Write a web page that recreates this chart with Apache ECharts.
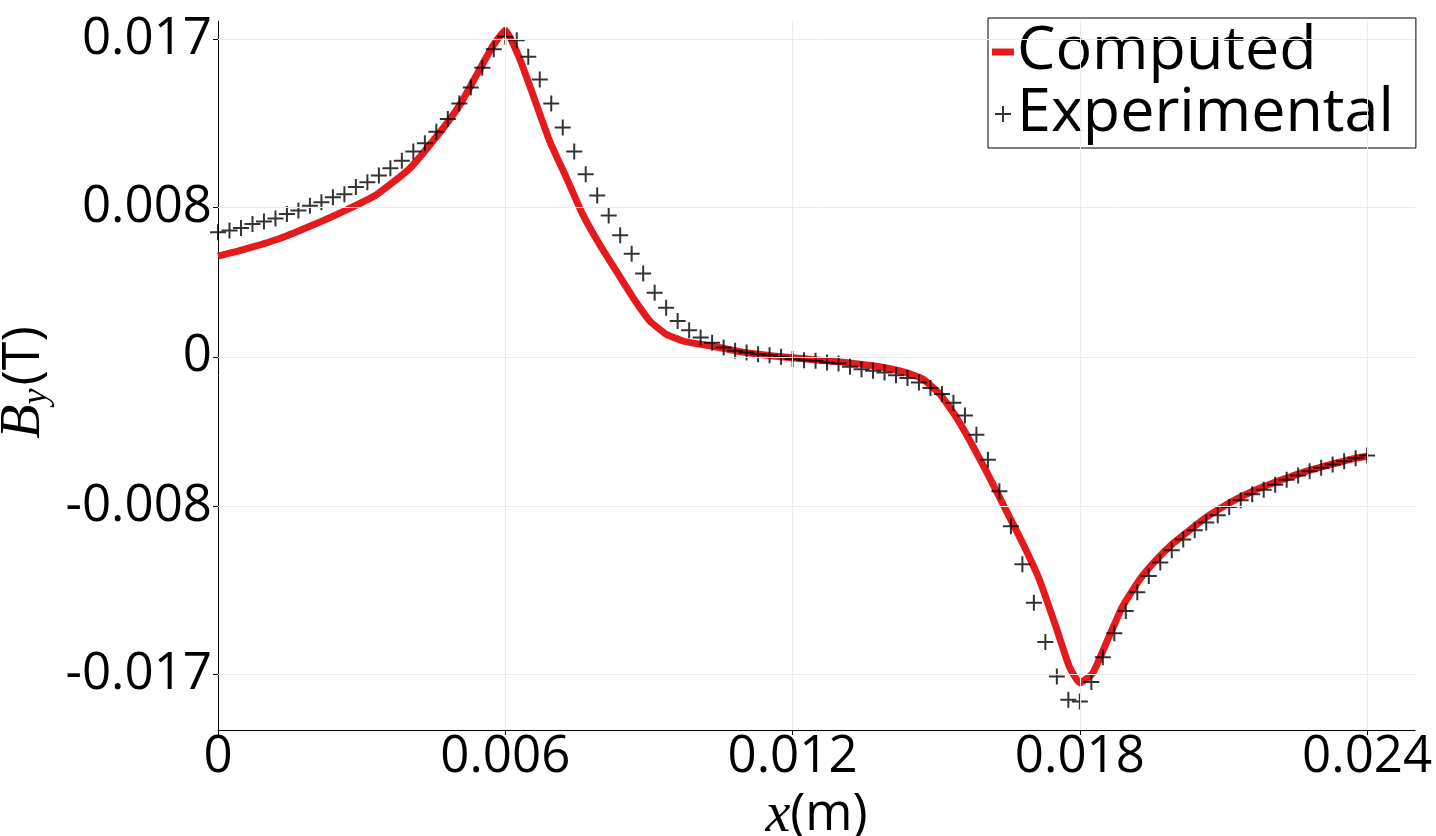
<!DOCTYPE html>
<html><head><meta charset="utf-8">
<script src="https://cdn.jsdelivr.net/npm/echarts@6/dist/echarts.min.js"></script>
<style>html,body{margin:0;padding:0;background:#fff}#c{width:1436px;height:836px}</style>
</head><body><div id="c"></div>
<script>
// Tick values
const xTicks = [0, 0.006, 0.012, 0.018, 0.024];
const yTicks = [-0.017, -0.008, 0, 0.008, 0.017];

// Computed curve (x in m, By in T)
const computedX = [0, 0.00053, 0.00123, 0.00192, 0.00262, 0.00331, 0.00401, 0.00470, 0.00505, 0.00540, 0.00575, 0.00600,
  0.00630, 0.00658, 0.00693, 0.00728, 0.00762, 0.00797, 0.00832, 0.00867, 0.00902, 0.00936, 0.00971, 0.01006, 0.01041,
  0.01089, 0.01159, 0.01229, 0.01298, 0.01368, 0.01437, 0.01472, 0.01507, 0.01542, 0.01576, 0.01611, 0.01646, 0.01681,
  0.01716, 0.01750, 0.01778, 0.01800, 0.01827, 0.01855, 0.01889, 0.01924, 0.01959, 0.01994, 0.02029, 0.02063, 0.02098,
  0.02133, 0.02168, 0.02202, 0.02237, 0.02272, 0.02307, 0.02342, 0.02376, 0.02400];
const computedY = [0.00540, 0.00575, 0.00629, 0.00700, 0.00780, 0.00869, 0.01011, 0.01225, 0.01350, 0.01510, 0.01670, 0.01751,
  0.01599, 0.01403, 0.01154, 0.00958, 0.00762, 0.00602, 0.00459, 0.00317, 0.00192, 0.00121, 0.00085, 0.00068, 0.00053,
  0.00028, 0.00005, -0.00012, -0.00027, -0.00048, -0.00084, -0.00119, -0.00198, -0.00324, -0.00475, -0.00645, -0.00823, -0.01001,
  -0.01197, -0.01446, -0.01660, -0.01748, -0.01695, -0.01535, -0.01339, -0.01197, -0.01090, -0.01001, -0.00929, -0.00862, -0.00805,
  -0.00755, -0.00712, -0.00677, -0.00645, -0.00614, -0.00588, -0.00565, -0.00543, -0.00533];

// Experimental measurements
const expX = [0, 0.00024, 0.00048, 0.00072, 0.00096, 0.0012, 0.00144, 0.00168, 0.00192, 0.00216, 0.0024, 0.00264, 0.00288,
  0.00312, 0.00336, 0.0036, 0.00384, 0.00408, 0.00432, 0.00456, 0.0048, 0.00504, 0.00528, 0.00552, 0.00576, 0.006,
  0.00624, 0.00648, 0.00672, 0.00696, 0.0072, 0.00744, 0.00768, 0.00792, 0.00816, 0.0084, 0.00864, 0.00888, 0.00912,
  0.00936, 0.0096, 0.00984, 0.01008, 0.01032, 0.01056, 0.0108, 0.01104, 0.01128, 0.01152, 0.01176, 0.012, 0.01224,
  0.01248, 0.01272, 0.01296, 0.0132, 0.01344, 0.01368, 0.01392, 0.01416, 0.0144, 0.01464, 0.01488, 0.01512, 0.01536,
  0.0156, 0.01584, 0.01608, 0.01632, 0.01656, 0.0168, 0.01704, 0.01728, 0.01752, 0.01776, 0.018, 0.01824, 0.01848,
  0.01872, 0.01896, 0.0192, 0.01944, 0.01968, 0.01992, 0.02016, 0.0204, 0.02064, 0.02088, 0.02112, 0.02136, 0.0216,
  0.02184, 0.02208, 0.02232, 0.02256, 0.0228, 0.02304, 0.02328, 0.02352, 0.02376, 0.024];
const expY = [0.00668, 0.00677, 0.00691, 0.00712, 0.00726, 0.00741, 0.00765, 0.00785, 0.00810, 0.00828, 0.00855, 0.00872,
  0.00910, 0.00936, 0.00972, 0.01011, 0.01051, 0.01100, 0.01145, 0.01207, 0.01275, 0.01358, 0.01444, 0.01549, 0.01649,
  0.01715, 0.01697, 0.01608, 0.01487, 0.01358, 0.01229, 0.01100, 0.00979, 0.00865, 0.00757, 0.00652, 0.00552, 0.00447,
  0.00343, 0.00263, 0.00192, 0.00143, 0.00103, 0.00076, 0.00050, 0.00032, 0.00023, 0.00014, 0.00009, 0, -0.00012,
  -0.00018, -0.00021, -0.00030, -0.00036, -0.00053, -0.00066, -0.00075, -0.00084, -0.00098, -0.00114, -0.00137, -0.00167,
  -0.00199, -0.00246, -0.00315, -0.00417, -0.00552, -0.00720, -0.00908, -0.01111, -0.01318, -0.01529, -0.01713, -0.01838,
  -0.01847, -0.01743, -0.01610, -0.01481, -0.01362, -0.01262, -0.01175, -0.01102, -0.01036, -0.00979, -0.00929, -0.00888,
  -0.00849, -0.00805, -0.00769, -0.00737, -0.00712, -0.00685, -0.00659, -0.00636, -0.00613, -0.00595, -0.00577, -0.00559,
  -0.00543, -0.00529];

const FONT = 'Open Sans';
const RED = '#e41a1c';
const PLUS = 'path://M7,0H9V7H16V9H9V16H7V9H0V7H7Z';
const BAR = 'path://M0,0H22V7H0Z';

const chart = echarts.init(document.getElementById('c'), null, {renderer: 'canvas'});
const gridLines = xTicks.filter(v => v !== 0).map(v => ({xAxis: v}))
  .concat(yTicks.map(v => ({yAxis: v})));

chart.setOption({
  animation: false,
  backgroundColor: '#fff',
  grid: {left: 218, right: 21, top: 21, bottom: 106, containLabel: false, outerBoundsMode: 'none'},
  xAxis: {
    type: 'value', min: 0, max: 0.025,
    axisLine: {show: true, onZero: false, lineStyle: {color: '#000', width: 1}},
    axisTick: {show: true, customValues: xTicks, length: 5, lineStyle: {color: '#000'}},
    axisLabel: {customValues: xTicks, fontSize: 51, color: '#000', fontFamily: FONT, margin: 2},
    splitLine: {show: false},
    name: '{i|x}{n|(m)}', nameLocation: 'middle', nameGap: 47,
    nameTextStyle: {
      rich: {
        i: {fontFamily: 'Liberation Serif', fontStyle: 'italic', fontSize: 56, color: '#000'},
        n: {fontFamily: FONT, fontSize: 51, color: '#000'}
      }
    }
  },
  yAxis: {
    type: 'value', min: -0.02, max: 0.018,
    axisLine: {show: true, onZero: false, lineStyle: {color: '#000', width: 1}},
    axisTick: {show: true, customValues: yTicks, length: 5, lineStyle: {color: '#000'}},
    axisLabel: {customValues: yTicks, fontSize: 51, color: '#000', fontFamily: FONT, margin: 6},
    splitLine: {show: false},
    name: '{b|B}{s|y}{n|(T)}', nameLocation: 'middle', nameGap: 158,
    nameTextStyle: {
      padding: [0, 14, 0, 0],
      rich: {
        b: {fontFamily: 'Liberation Serif', fontStyle: 'italic', fontSize: 56, color: '#000', lineHeight: 60},
        s: {fontFamily: 'Liberation Serif', fontStyle: 'italic', fontSize: 36, color: '#000', verticalAlign: 'bottom', lineHeight: 40, padding: [24, 3, 0, 0]},
        n: {fontFamily: FONT, fontSize: 52, color: '#000', lineHeight: 60}
      }
    }
  },
  legend: {
    orient: 'vertical', left: 988, top: 18,
    data: [{name: 'Computed', icon: BAR}, {name: 'Experimental', icon: PLUS}],
    itemWidth: 22, itemHeight: 16, itemGap: 0,
    padding: [3, 22, 3, 4],
    borderColor: '#000', borderWidth: 1, backgroundColor: '#fff',
    textStyle: {fontSize: 61, fontFamily: FONT, color: '#000', lineHeight: 62, padding: [0, 0, 0, -2]}
  },
  series: [
    {
      name: 'gridlines', type: 'line', data: [], z: -1, silent: true,
      markLine: {
        silent: true, symbol: ['none', 'none'], label: {show: false}, animation: false, precision: 6,
        lineStyle: {color: '#ebebeb', width: 1, type: 'solid'},
        data: gridLines
      }
    },
    {
      name: 'Computed', type: 'line', z: 3,
      data: computedX.map((x, i) => [x, computedY[i]]),
      showSymbol: false, symbol: 'none', smooth: 0.15,
      color: RED,
      lineStyle: {color: RED, width: 7, join: 'round'}
    },
    {
      name: 'Experimental', type: 'scatter', z: 4,
      data: expX.map((x, i) => [x, expY[i]]),
      symbol: PLUS, symbolSize: 16,
      itemStyle: {color: '#000'}
    }
  ]
});
</script>
</body></html>
